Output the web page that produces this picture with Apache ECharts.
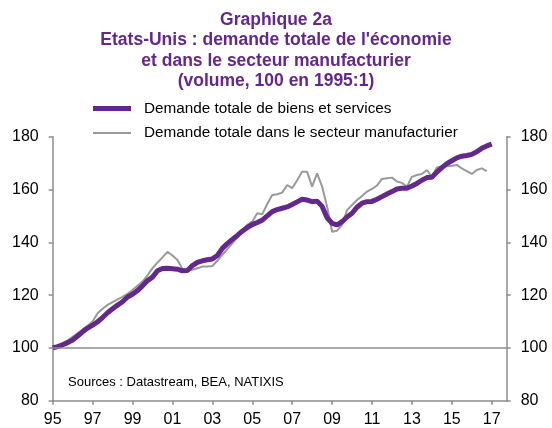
<!DOCTYPE html>
<html style="height: 100%">
<head>
    <meta charset="utf-8">
    <title>Graphique 2a</title>
    <script src="https://cdn.jsdelivr.net/npm/echarts@6/dist/echarts.min.js"></script>
</head>
<body style="height: 100%; margin: 0">
<div id="main" style="width: 552px; height: 428px"></div>

<script type="text/javascript">
    // quarterly data, 1995:1 = 100
    var startYear = 1995;
    var totalDemand = [
        100.0, 100.5, 101.2, 102.0,
        103.0, 104.5, 106.1, 107.5,
        108.6, 109.9, 111.5, 113.3,
        114.8, 116.2, 117.5, 119.3,
        120.3, 121.7, 123.5, 125.5,
        126.8, 129.2, 130.1, 130.2,
        130.0, 129.8, 129.2, 129.3,
        131.2, 132.4, 133.0, 133.4,
        133.7, 135.0, 137.7, 139.5,
        141.1, 142.6, 144.2, 145.6,
        146.7, 147.5, 148.4, 150.0,
        151.6, 152.4, 152.9, 153.4,
        154.3, 155.3, 156.3, 156.0,
        155.4, 155.6, 153.6, 149.3,
        147.2, 146.6, 147.8, 149.6,
        151.0, 153.3, 154.8, 155.4,
        155.5, 156.3, 157.3, 158.3,
        159.2, 160.2, 160.5, 160.5,
        161.3, 162.3, 163.5, 164.5,
        164.6, 166.6, 168.3, 169.8,
        170.9, 172.0, 172.6, 172.9,
        173.3, 174.3, 175.6, 176.5,
        177.2
    ];
    var manufDemand = [
        100.0, 100.9, 101.7, 102.9,
        104.2, 105.5, 107.0, 108.4,
        110.0, 113.1, 114.8, 116.3,
        117.3, 118.4, 119.3, 120.5,
        121.9, 123.5, 125.1, 127.5,
        130.2, 132.3, 134.3, 136.4,
        135.0, 133.3, 130.0, 129.3,
        129.6, 130.2, 130.8, 130.8,
        131.0, 133.0, 135.3, 137.4,
        139.6, 141.9, 144.3, 146.6,
        147.8, 151.0, 150.6, 154.5,
        157.9, 158.2, 158.8, 161.7,
        160.5, 163.5, 166.7, 166.7,
        161.1, 166.1, 161.1, 153.5,
        144.0, 144.4, 146.6, 152.2,
        154.1, 156.0, 157.5, 159.2,
        160.2, 161.5, 164.0, 164.3,
        164.5, 163.0, 162.5, 161.1,
        164.8, 165.5, 165.9, 167.4,
        164.8, 168.3, 168.6, 168.8,
        169.0, 169.3, 168.0, 167.0,
        165.9, 167.4, 168.0, 167.0
    ];
    var seriesNames = ['Demande totale de biens et services', 'Demande totale dans le secteur manufacturier'];
    var titleLines = ['Graphique 2a', "Etats-Unis : demande totale de l'économie", 'et dans le secteur manufacturier', '(volume, 100 en 1995:1)'];
    var sourceText = 'Sources : Datastream, BEA, NATIXIS';

    function toPairs(values) {
        var out = [];
        for (var i = 0; i < values.length; i++) {
            out.push([i / 4, values[i]]);
        }
        return out;
    }

    var font = 'Liberation Sans, Arial, sans-serif';
    var purple = '#64288c';
    var lineGrey = '#999999';
    var axisGrey = '#8c8c8c';

    var myChart = echarts.init(document.getElementById('main'));

    var yAxisBase = {
        type: 'value',
        min: 80,
        max: 180,
        interval: 20,
        axisLine: {show: true, lineStyle: {color: axisGrey, width: 1.5}},
        axisTick: {show: true, length: 4, lineStyle: {color: axisGrey, width: 1.5}},
        splitLine: {show: false},
        axisLabel: {color: '#000', fontSize: 16, fontFamily: font, margin: 14}
    };

    var option = {
        animation: false,
        title: {
            text: titleLines.join('\n'),
            left: 'center',
            top: 5,
            textStyle: {color: purple, fontSize: 17.5, fontWeight: 'bold', fontFamily: font, lineHeight: 20.3, align: 'center'}
        },
        legend: {
            orient: 'vertical',
            left: 93,
            top: 101,
            padding: 0,
            itemWidth: 38,
            itemHeight: 14,
            itemGap: 9.5,
            symbolKeepAspect: true,
            textStyle: {color: '#000', fontSize: 15.3, fontFamily: font, padding: [0, 0, 0, 8]},
            data: [
                {name: seriesNames[0], icon: 'path://M0,0 H38 V5 H0 Z', itemStyle: {color: purple}},
                {name: seriesNames[1], icon: 'path://M0,0 H38 V2 H0 Z', itemStyle: {color: lineGrey}}
            ]
        },
        grid: {left: 52.7, right: 45.3, top: 136.7, bottom: 27.3},
        xAxis: {
            type: 'value',
            min: 0,
            max: 22.75,
            interval: 2,
            axisLine: {show: true, onZero: false, lineStyle: {color: axisGrey, width: 1.5}},
            axisTick: {show: true, length: 4, lineStyle: {color: axisGrey, width: 1.5}},
            splitLine: {show: false},
            axisLabel: {
                color: '#000', fontSize: 16, fontFamily: font, margin: 11,
                showMaxLabel: false,
                formatter: function (v) {
                    var y = (startYear + v) % 100;
                    return (y < 10 ? '0' : '') + y;
                }
            }
        },
        yAxis: [
            Object.assign({position: 'left'}, yAxisBase),
            Object.assign({position: 'right'}, yAxisBase)
        ],
        graphic: [{
            type: 'text',
            left: 68,
            top: 376,
            style: {text: sourceText, fill: '#000', fontSize: 13, fontFamily: font}
        }],
        series: [
            {
                name: seriesNames[1],
                type: 'line',
                data: toPairs(manufDemand),
                showSymbol: false,
                symbol: 'none',
                lineStyle: {color: lineGrey, width: 2},
                itemStyle: {color: lineGrey},
                z: 2,
                markLine: {
                    silent: true,
                    symbol: 'none',
                    label: {show: false},
                    lineStyle: {color: axisGrey, width: 1.5, type: 'solid'},
                    data: [{yAxis: 100}]
                }
            },
            {
                name: seriesNames[0],
                type: 'line',
                data: toPairs(totalDemand),
                showSymbol: false,
                symbol: 'none',
                lineStyle: {color: purple, width: 5},
                itemStyle: {color: purple},
                z: 3
            }
        ]
    };
    myChart.setOption(option, true);
</script>
</body>
</html>
